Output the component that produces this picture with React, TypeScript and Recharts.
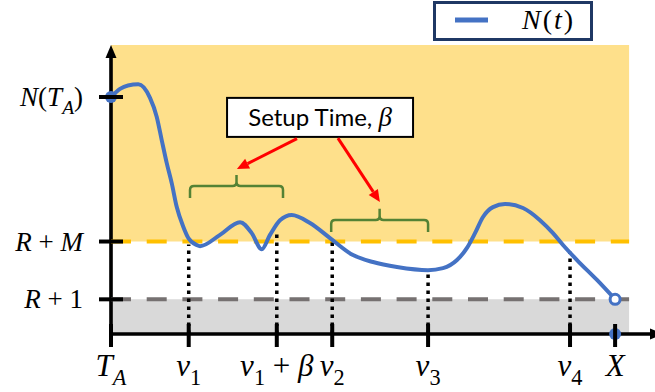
import React from 'react';
import {
  ComposedChart,
  Line,
  XAxis,
  YAxis,
  ReferenceArea,
  ReferenceLine,
  ReferenceDot,
  Legend,
} from 'recharts';

// ---------- data ----------
const curveT = [0, 1.74, 3.28, 5.27, 7.53, 8.82, 9.79, 10.75, 11.72, 12.68, 13.95, 14.92, 16.54, 17.18, 21.04, 24.9, 27.16, 29.09, 30.69, 32.62, 34.88, 38.41, 42.27, 46.71, 50.57, 55.2, 61.18, 64.08, 66.78, 68.71, 70.26, 71.8, 73.73, 76.05, 79.52, 82.8, 85.31, 87.24, 89.94, 93.8, 97.3];
const curveN = [82, 84.8, 86.0, 86.4, 81.7, 75.2, 67.1, 59.2, 52.2, 44.0, 37.1, 33.2, 30.8, 30.4, 34.3, 38.7, 34.9, 29.3, 34.3, 39.4, 41.2, 38.4, 33.2, 27.3, 24.9, 23.2, 22.1, 22.8, 25.6, 29.8, 34.9, 40.5, 43.9, 45.0, 43.6, 39.4, 34.9, 30.8, 25.6, 18.7, 12];

const xTicks = [0, 15.0, 32.0, 42.7, 61.2, 88.6, 97.3];
const xTickLabels = ['T_A', 'v_1', 'v_1 + β', 'v_2', 'v_3', 'v_4', 'X'];
const yTicks = [12, 32, 82];
const yTickLabels = ['R + 1', 'R + M', 'N(T_A)'];

const levelR1 = 12;
const levelRM = 32;
const startN = 82;
const endX = 97.3;
const regionEnd = 100;
const xMin = -1;
const xMax = 105;
const yMin = -1.5;
const yMax = 100;
const yAxisLineTop = 96;
const axisHalfX = 0.35; // half axis thickness in x units
const axisHalfY = 0.62; // half axis thickness in y units

const dottedX = [15.0, 32.0, 42.7, 61.2, 88.6];
const dottedTop = [31, 36, 32, 22.5, 28.5];

const bracketX1 = [15.25, 42.5];
const bracketX2 = [33.2, 61.2];
const bracketYLow = [47.1, 35.3];
const bracketYHigh = [55.0, 43.3];

const noteText = 'Setup Time, ';
const noteSymbol = 'β';
const noteBoxX = [22.4, 58.3];
const noteBoxY = [68.2, 81.7];

const arrowFromX = [35.9, 43.8];
const arrowFromY = [67.6, 67.8];
const arrowToX = [24.3, 51.9];
const arrowToY = [57.1, 45.7];

const seriesName = 'N(t)';

const data = curveT.map((t, i) => ({ t, n: curveN[i] }));

// ---------- styling ----------
const BLUE = '#4472C4';
const MATH_FONT = '"Liberation Serif", "Times New Roman", serif';

function parseMath(s: string) {
  const out: { ch: string; sub: boolean; italic: boolean }[] = [];
  const chars = Array.from(s);
  for (let i = 0; i < chars.length; i++) {
    let c = chars[i];
    let sub = false;
    if (c === '_' && i + 1 < chars.length) {
      sub = true;
      i++;
      c = chars[i];
    }
    out.push({ ch: c, sub, italic: /[A-Za-z\u03B1-\u03C9]/.test(c) });
  }
  return out;
}

function mathSpans(s: string, size: number) {
  const toks = parseMath(s);
  const shift = size * 0.3;
  let cur = 0;
  return toks.map((t, i) => {
    const target = t.sub ? shift : 0;
    const dy = target - cur;
    cur = target;
    const ch = t.ch === ' ' ? '\u2005' : t.ch;
    return (
      <tspan
        key={i}
        dy={dy !== 0 ? dy : undefined}
        fontStyle={t.italic ? 'italic' : 'normal'}
        fontSize={t.sub ? size * 0.72 : size}
      >
        {ch}
      </tspan>
    );
  });
}

const XTick = (props: any) => {
  const { x, y, index } = props;
  const label = xTickLabels[index] ?? '';
  return (
    <g>
      <line x1={x} x2={x} y1={y - 10} y2={y + 13} stroke="#000" strokeWidth={4} />
      <text x={x} y={y + 42} textAnchor="middle" fontFamily={MATH_FONT} fontSize={31} fill="#000" style={{ whiteSpace: 'pre' }}>
        {mathSpans(label, 31)}
      </text>
    </g>
  );
};

const YTick = (props: any) => {
  const { x, y, index } = props;
  const label = yTickLabels[index] ?? '';
  return (
    <g>
      <line x1={x - 12} x2={x + 12} y1={y} y2={y} stroke="#000" strokeWidth={4} />
      <text x={x - 28} y={y + 9} textAnchor="end" fontFamily={MATH_FONT} fontSize={27} fill="#000" style={{ whiteSpace: 'pre' }}>
        {mathSpans(label, 27)}
      </text>
    </g>
  );
};

const ArrowUp = (p: any) => (
  <polygon points={`${p.cx},${p.cy} ${p.cx - 5.5},${p.cy + 13} ${p.cx + 5.5},${p.cy + 13}`} fill="#000" />
);
const ArrowRight = (p: any) => (
  <polygon points={`${p.cx + 8},${p.cy} ${p.cx - 5},${p.cy - 5.5} ${p.cx - 5},${p.cy + 5.5}`} fill="#000" />
);

const RedArrow = (p: any) => {
  const { x1, y1, x2, y2 } = p;
  const dx = x2 - x1;
  const dy = y2 - y1;
  const L = Math.hypot(dx, dy) || 1;
  const ux = dx / L;
  const uy = dy / L;
  const hl = 12;
  const hw = 5.5;
  const bx = x2 - ux * hl;
  const by = y2 - uy * hl;
  const px = -uy;
  const py = ux;
  return (
    <g>
      <line x1={x1} y1={y1} x2={bx} y2={by} stroke="#FF0000" strokeWidth={3} />
      <polygon points={`${x2},${y2} ${bx + px * hw},${by + py * hw} ${bx - px * hw},${by - py * hw}`} fill="#FF0000" />
    </g>
  );
};

const Bracket = (p: any) => {
  const { x, y, width, height } = p;
  const top = y;
  const bot = y + height;
  const mid = y + height * 0.48;
  const cx = x + width / 2;
  const r = 4;
  const xr = x + width;
  const d = `M${x},${bot} L${x},${mid + r} Q${x},${mid} ${x + r},${mid} L${cx - r},${mid} Q${cx},${mid} ${cx},${mid - r} L${cx},${top} M${cx},${mid - r} Q${cx},${mid} ${cx + r},${mid} L${xr - r},${mid} Q${xr},${mid} ${xr},${mid + r} L${xr},${bot}`;
  return <path d={d} fill="none" stroke="#548235" strokeWidth={2.5} />;
};

const NoteBox = (p: any) => {
  const { x, y, width, height } = p;
  return (
    <g>
      <rect x={x} y={y} width={width} height={height} fill="#fff" stroke="#000" strokeWidth={2} />
      <text x={x + width / 2} y={y + height / 2 + 9} textAnchor="middle" fontFamily="Lato, 'Open Sans', sans-serif" fontSize={24} fill="#000" style={{ whiteSpace: 'pre' }}>
        {noteText}
        <tspan fontFamily={MATH_FONT} fontStyle="italic" fontSize={27}>{noteSymbol}</tspan>
      </text>
    </g>
  );
};

const LegendBox = (props: any) => {
  const item = props.payload && props.payload[0];
  const name = item ? String(item.value) : seriesName;
  return (
    <div style={{ boxSizing: 'border-box', width: 160, height: 40, border: '3px solid #1F3864', background: '#fff' }}>
      <svg width={154} height={34} style={{ display: 'block' }}>
        <line x1={19} x2={52} y1={16} y2={16} stroke={BLUE} strokeWidth={5} />
        <text x={86} y={25} fontFamily={MATH_FONT} fontSize={28} letterSpacing={2} fill="#000">
          {mathSpans(name, 28)}
        </text>
      </svg>
    </div>
  );
};

export default function App() {
  return (
    <div style={{ position: 'absolute', left: 0, top: 0, background: '#fff' }}>
      <ComposedChart width={655} height={392} data={data} margin={{ top: 45, right: 0, bottom: 52.66, left: 104.82 }}>
        <XAxis
          dataKey="t"
          type="number"
          domain={[xMin, xMax]}
          allowDataOverflow
          ticks={xTicks}
          interval={0}
          height={1}
          tickSize={0}
          tickMargin={-4.34}
          tickLine={false}
          axisLine={false}
          tick={<XTick />}
        />
        <YAxis
          type="number"
          domain={[yMin, yMax]}
          allowDataOverflow
          ticks={yTicks}
          interval={0}
          width={1}
          tickSize={0}
          tickMargin={-5.18}
          tickLine={false}
          axisLine={false}
          tick={<YTick />}
        />
        <ReferenceArea x1={0} x2={regionEnd} y1={levelRM} y2={yMax} fill="#FEE08B" fillOpacity={1} stroke="none" />
        <ReferenceArea x1={0} x2={regionEnd} y1={0} y2={levelR1} fill="#D9D9D9" fillOpacity={1} stroke="none" />
        <ReferenceLine segment={[{ x: 0, y: levelRM }, { x: regionEnd, y: levelRM }]} stroke="#FFC000" strokeWidth={4} strokeDasharray="20 15.7" />
        <ReferenceLine segment={[{ x: 0, y: levelR1 }, { x: regionEnd, y: levelR1 }]} stroke="#767171" strokeWidth={4} strokeDasharray="20 15.7" />
        {dottedX.map((vx, i) => (
          <ReferenceLine key={`d${i}`} segment={[{ x: vx, y: 0 }, { x: vx, y: dottedTop[i] }]} stroke="#000" strokeWidth={3.5} strokeDasharray="3.5 4.5" />
        ))}
        <ReferenceArea x1={-axisHalfX} x2={axisHalfX} y1={0} y2={yAxisLineTop} fill="#000" fillOpacity={1} stroke="none" />
        <ReferenceArea x1={-axisHalfX} x2={xMax} y1={-axisHalfY} y2={axisHalfY} fill="#000" fillOpacity={1} stroke="none" />
        {bracketX1.map((bx, i) => (
          <ReferenceArea key={`b${i}`} x1={bx} x2={bracketX2[i]} y1={bracketYLow[i]} y2={bracketYHigh[i]} shape={<Bracket />} />
        ))}
        <ReferenceArea x1={noteBoxX[0]} x2={noteBoxX[1]} y1={noteBoxY[0]} y2={noteBoxY[1]} shape={<NoteBox />} />
        {arrowFromX.map((ax, i) => (
          <ReferenceLine key={`a${i}`} segment={[{ x: ax, y: arrowFromY[i] }, { x: arrowToX[i], y: arrowToY[i] }]} shape={<RedArrow />} />
        ))}
        <Line dataKey="n" name={seriesName} type="monotone" stroke={BLUE} strokeWidth={4} dot={false} activeDot={false} isAnimationActive={false} />
        <ReferenceDot x={0} y={yMax} r={1} shape={<ArrowUp />} ifOverflow="visible" />
        <ReferenceDot x={xMax} y={0} r={1} shape={<ArrowRight />} ifOverflow="visible" />
        <ReferenceDot x={0} y={startN} r={6} fill={BLUE} stroke="none" ifOverflow="visible" />
        <ReferenceDot x={endX} y={levelR1} r={5} fill="#fff" stroke={BLUE} strokeWidth={3} ifOverflow="visible" />
        <ReferenceDot x={endX} y={0} r={6} fill={BLUE} stroke="none" ifOverflow="visible" />
        <Legend layout="horizontal" verticalAlign="middle" align="center" wrapperStyle={{ left: 433, top: 1, width: 160, height: 40 }} content={<LegendBox />} />
      </ComposedChart>
    </div>
  );
}
